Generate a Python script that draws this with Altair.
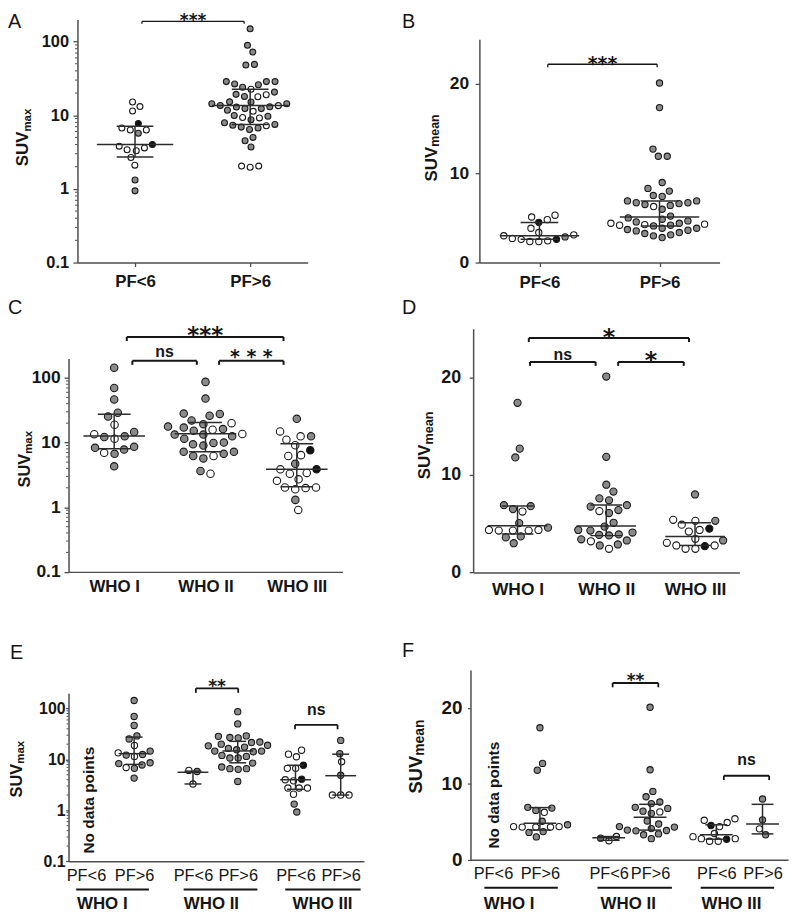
import math
import altair as alt
import pandas as pd

# ---------------------------------------------------------------
# Values
# point type: g = grey, w = white (open), b = black
# ---------------------------------------------------------------
PF_LABELS = ["PF<6", "PF>6"]
WHO_LABELS = ["WHO I", "WHO II", "WHO III"]
SUB_LABELS = ["PF<6", "PF>6", "PF<6", "PF>6", "PF<6", "PF>6"]

# Panel A : SUVmax, PF<6 vs PF>6 (log)
A_LO_VALUES = [15.1, 13.1, 11.4, 7.7, 6.7, 6.3, 6.3, 5.7, 4.0, 3.6, 3.8, 3.3, 3.4, 2.67, 2.1, 1.32, 0.94]
A_LO_TYPES = "w w w b w w w g b w w w w w w g g".split()
A_HI_VALUES = [149, 89, 72, 48, 49,
               28.6, 28.6, 25.9, 24, 26.6, 28.6,
               20.6, 19, 17.8, 18, 19.2, 22.5,
               15.1, 14.3, 13.5, 12.9, 12.3, 11.7, 12.3, 13.0, 13.6, 14.3, 15.2,
               9.9, 9.3, 8.7, 9.2, 9.7, 11.3,
               7.5, 7.2, 6.7, 6.4, 6.9, 7.3, 7.9,
               5.0, 4.5, 3.7,
               2.04, 1.97, 2.04]
A_HI_TYPES = ("g g g g g "
              "g g g g g g "
              "g w w g g w "
              "g g w g g g g g g g g "
              "g w g w g w "
              "g w g g g g g "
              "g g g "
              "w w w").split()
A_MEDIAN = [4.0, 13.6]
A_Q1 = [2.72, 7.5]
A_Q3 = [7.1, 22.5]

# Panel B : SUVmean, PF<6 vs PF>6 (linear)
B_LO_VALUES = [5.1, 5.3, 4.8, 4.5, 3.84, 3.1, 2.87, 2.6, 2.43, 2.35, 2.35, 2.6, 2.7, 3.0, 3.36]
B_LO_TYPES = "w w w b w w g w w w w b w w w".split()
B_HI_VALUES = [20.1, 17.35, 12.7, 11.9, 11.9, 8.96, 8.0, 8.3, 7.4, 7.5,
               6.9, 6.7, 6.5, 5.97, 6.27, 6.4, 6.6, 6.7, 6.9,
               5.0, 5.2, 4.85,
               4.66, 4.4, 4.25, 4.18, 4.1, 4.18, 4.3, 4.4, 4.55,
               3.84, 3.62, 3.36, 3.1, 2.8, 2.99, 3.25, 3.54, 3.7, 3.84]
B_HI_TYPES = ("g g g g g g g g g g "
              "g g g g w g g g g "
              "g g g "
              "g g w g g w w w g "
              "g g g g g g g g g g").split()
B_MEDIAN = [3.0, 5.1]
B_Q1 = [2.6, 4.1]
B_Q3 = [4.48, 6.9]

# Panel C : SUVmax by WHO grade (log)
C_I_VALUES = [144, 70, 46.6, 29, 25.3, 18.9, 14.6, 12.5, 11.5, 12.2, 13.5, 8.6, 8.3, 6.95, 6.7, 7.8, 4.3]
C_I_TYPES = "g g g g g w g g w g w g g w g g g".split()
C_II_VALUES = [87, 48, 28.1, 26, 22, 27.8, 20, 19.3, 17.1, 15.8, 15.3, 16.2, 17.7, 13.3, 12.5,
               13.6, 13.3, 11.5, 9.9, 9.4, 9.0, 10.0, 7.2, 6.7, 6.2, 5.7, 6.2, 7.2, 3.3, 3.65]
C_II_TYPES = "g g g g g g w g g w g g g g g w g g g g g g g g w g g g w g".split()
C_III_VALUES = [23.3, 12.5, 11.1, 12.5, 14.9, 9.1, 7.6, 6.4, 6.2, 4.7, 3.86, 3.86, 3.3, 3.4, 2.7,
                2.56, 2.02, 1.98, 1.9, 2.02, 1.3, 0.91]
C_III_TYPES = "g w w g w w b w w g w b w w w w w w w w g w".split()
C_MEDIAN = [12.6, 13.7, 3.86]
C_Q1 = [8.0, 7.2, 2.07]
C_Q3 = [27.5, 20.5, 9.6]

# Panel D : SUVmean by WHO grade (linear)
D_I_VALUES = [17.4, 12.7, 11.8, 6.8, 6.25, 6.5, 6.9, 5.07, 4.36, 4.3, 4.3, 4.3, 4.36, 4.6, 3.7, 3.6, 3.0]
D_I_TYPES = "g g g g w g g g w w w w w g g g g".split()
D_II_VALUES = [20.1, 11.86, 9.0, 8.3, 7.4, 7.6, 6.76, 6.4, 6.3, 6.1, 6.9, 5.1, 4.7, 4.36, 4.1,
               3.9, 3.8, 3.85, 4.3, 3.28, 2.87, 2.43, 2.77, 3.2, 3.4]
D_II_TYPES = "g g g g g g g g w g g g g g g g g g g g g w g w g".split()
D_III_VALUES = [8.0, 4.9, 5.4, 5.3, 5.3, 4.5, 4.2, 4.36, 3.45, 3.28, 2.77, 2.7, 2.43, 2.43, 2.77, 3.04]
D_III_TYPES = "g w w w g b w w w g w b w w w w".split()
D_MEDIAN = [4.8, 4.76, 3.7]
D_Q1 = [3.95, 3.78, 2.77]
D_Q3 = [6.82, 6.93, 5.1]

# Panel E : SUVmax by WHO grade and PF (log); WHO I PF<6 has no data
E_I_HI_VALUES = C_I_VALUES
E_I_HI_TYPES = C_I_TYPES
E_II_LO_VALUES = [6.1, 5.8, 3.3]
E_II_LO_TYPES = "w g w".split()
E_II_HI_VALUES = [87, 50, 29, 27, 26.5, 28.5, 22, 20, 21.5, 19, 17.5, 16.5, 18.5, 14.6, 14.2,
                  14.6, 15.5, 12, 10.7, 10.7, 11.5, 6.6, 6.4, 6.6, 7.1, 8.5, 3.7]
E_II_HI_TYPES = ("g " * 27).split()
E_III_LO_VALUES = [15.2, 11.3, 12.7, 7.7, 6.7, 6.7, 4.1, 4.0, 3.8, 2.75, 2.75, 2.75, 2.08, 1.33, 0.93]
E_III_LO_TYPES = "w w w b w w b w w w w w w g g".split()
E_III_HI_VALUES = [23.7, 13.0, 9.0, 4.9, 2.0, 2.0, 2.0]
E_III_HI_TYPES = "g g w g w w w".split()
E_MEDIAN = [13.0, 5.6, 14.7, 4.0, 4.8]
E_Q1 = [8.0, 3.3, 8.6, 2.6, 2.0]
E_Q3 = [27.5, 5.9, 22.7, 7.7, 12.7]

# Panel F : SUVmean by WHO grade and PF (linear)
F_I_HI_VALUES = D_I_VALUES
F_I_HI_TYPES = D_I_TYPES
F_II_LO_VALUES = [3.06, 2.5, 2.84]
F_II_LO_TYPES = "w w g".split()
F_II_HI_VALUES = [20.1, 11.86, 9.0, 8.3, 7.4, 7.6, 6.76, 6.4, 6.3, 6.1, 6.9, 5.1, 4.7, 4.36, 4.1,
                  3.9, 3.8, 3.85, 4.3, 3.28, 2.77, 3.4]
F_II_HI_TYPES = "g g g g g g g g w g g g g g g g g g g g g g".split()
F_III_LO_VALUES = [5.4, 5.2, 4.9, 4.5, 4.36, 3.45, 2.77, 2.7, 2.43, 2.43, 2.77, 3.04]
F_III_LO_TYPES = "w w w b w w w b w w w w".split()
F_III_HI_VALUES = [8.0, 5.25, 4.07, 3.28]
F_III_HI_TYPES = "g g w g".split()
F_MEDIAN = [4.8, 2.9, 5.6, 3.28, 4.7]
F_Q1 = [3.9, 2.55, 3.9, 2.7, 3.4]
F_Q3 = [6.87, 3.05, 7.3, 4.6, 7.3]

# significance brackets: (x from, x to, level, label)
A_BRACKETS = [(1.06, 1.948, 188, "***")]
B_BRACKETS = [(1.07, 1.98, 22.2, "***")]
C_BRACKETS = [(1.138, 2.855, 430, "***"), (1.199, 1.905, 184, "ns"), (2.149, 2.855, 184, "* * *")]
D_BRACKETS = [(1.127, 2.932, 24.04, "*"), (1.141, 1.88, 21.6, "ns"), (2.134, 2.873, 21.6, "*")]
E_BRACKETS = [(2.845, 3.79, 250, "**"), (5.06, 6.01, 48, "ns")]
F_BRACKETS = [(2.955, 3.904, 23.3, "**"), (5.266, 6.208, 11.07, "ns")]

# ---------------------------------------------------------------
# Styling / layout
# ---------------------------------------------------------------
FONT = "Liberation Sans"
STAR_FONT = "DejaVu Sans"
INK = "#161616"
AXIS_COLOR = "#4d4d4d"
LINE_COLOR = "#2b2b2b"
FILL_DOMAIN = ["g", "w", "b"]
FILL_RANGE = ["#8a8a8a", "#ffffff", "#111111"]
CHART_W, CHART_H = 790, 912
ONE_ROW = pd.DataFrame({"k": [0]})


def swarm_offsets(ys, d):
    """Beeswarm: pixel offsets so that circles of spacing d do not collide."""
    n = len(ys)
    order = sorted(range(n), key=lambda i: -ys[i])
    placed = []
    offs = [0.0] * n
    side = 1.0
    for i in order:
        y = ys[i]
        cands = [0.0]
        for px, py in placed:
            dy = abs(y - py)
            if dy < d:
                r = math.sqrt(d * d - dy * dy)
                cands += [px + r, px - r]
        valid = [c for c in cands
                 if all((c - px) ** 2 + (y - py) ** 2 >= d * d - 1e-6 for px, py in placed)]
        if not valid:
            valid = [max(abs(px) for px, _ in placed) + d]
        best = min(abs(c) for c in valid)
        near = [c for c in valid if abs(c) <= best + 0.6]
        near.sort(key=lambda c: (0 if c * side <= 0 else 1, abs(c)))
        c = near[0]
        if abs(c) > 1e-9:
            side = 1.0 if c > 0 else -1.0
        placed.append((c, y))
        offs[i] = c
    srt = sorted(range(n), key=lambda i: ys[i])
    comps, cur = [], [srt[0]]
    for a, b in zip(srt, srt[1:]):
        if ys[b] - ys[a] < d:
            cur.append(b)
        else:
            comps.append(cur)
            cur = [b]
    comps.append(cur)
    for comp in comps:
        m = sum(offs[i] for i in comp) / len(comp)
        for i in comp:
            offs[i] -= m
    return offs


def build_panel(P):
    L, R, T, B = P["box"]
    x0, x1 = P["xdomain"]
    ppu = (R - L) / (x1 - x0)
    lo, hi = P["ydomain"]
    if P["log"]:
        la, lb = math.log10(lo), math.log10(hi)
        ypix = lambda v: T + (lb - math.log10(v)) / (lb - la) * (B - T)
        ysc = alt.Scale(type="log", domain=[lo, hi], range=[B, T], nice=False)
        yfmt = "~g"
    else:
        ypix = lambda v: T + (hi - v) / (hi - lo) * (B - T)
        ysc = alt.Scale(type="linear", domain=[lo, hi], range=[B, T], nice=False, zero=False)
        yfmt = "d"
    xsc = alt.Scale(type="linear", domain=[x0, x1], range=[L, R], nice=False, zero=False)
    pos = P["positions"]
    expr = " : ".join(f"abs(datum.value - {p}) < 0.001 ? '{t}'" for p, t in zip(pos, P["labels"])) + " : ''"
    xax = alt.Axis(orient="bottom", offset=B - CHART_H, values=pos, labelExpr=expr, title=None, grid=False,
                   domainColor=AXIS_COLOR, domainWidth=1.5, ticks=True, tickSize=P["xtick"],
                   tickColor=AXIS_COLOR, tickWidth=1.3, labelFont=FONT, labelFontSize=P["xlab"],
                   labelFontWeight=P["xweight"], labelColor=INK, labelPadding=P["xpad"], labelAngle=0,
                   labelFlush=False, labelOverlap=False)
    yax = alt.Axis(orient="left", offset=-L, values=P["yticks"], format=yfmt, title=None, grid=False,
                   domainColor=AXIS_COLOR, domainWidth=1.5, ticks=True, tickSize=P["ytick"],
                   tickColor=AXIS_COLOR, tickWidth=1.3, labelFont=FONT, labelFontSize=P["ylab"],
                   labelFontWeight="bold", labelColor=INK, labelPadding=P["ypad"],
                   labelFlush=False, labelOverlap=False)

    def X(f):
        return alt.X(f"{f}:Q", scale=xsc, axis=xax)

    def Y(f):
        return alt.Y(f"{f}:Q", scale=ysc, axis=yax)

    layers = []
    # points
    rows = []
    for gi, vals, types in P["groups"]:
        offs = swarm_offsets([ypix(v) for v in vals], P["d"])
        for v, t, o in zip(vals, types, offs):
            rows.append({"x": pos[gi] + o / ppu, "y": v, "t": t})
    layers.append(
        alt.Chart(pd.DataFrame(rows)).mark_point(
            shape="circle", filled=True, size=P["size"], stroke="#1a1a1a", strokeWidth=1.1, opacity=1
        ).encode(x=X("x"), y=Y("y"),
                 fill=alt.Fill("t:N", scale=alt.Scale(domain=FILL_DOMAIN, range=FILL_RANGE), legend=None))
    )
    # minor ticks on log axes
    if P["log"]:
        minor = [m * 10 ** e for e in range(-1, 3) for m in range(2, 10) if m * 10 ** e < hi]
        layers.append(
            alt.Chart(pd.DataFrame({"v": minor})).mark_rule(color=AXIS_COLOR, strokeWidth=1).encode(
                x=alt.value(L - P["minor"]), x2=alt.value(L), y=Y("v"))
        )
    # median and interquartile range
    srows = []
    for gi, med, q1, q3 in zip(P["stat_groups"], P["med"], P["q1"], P["q3"]):
        c = pos[gi]
        srows.append(dict(c=c, med=med, q1=q1, q3=q3,
                          m1=c - P["mh"] / ppu, m2=c + P["mh"] / ppu,
                          w1=c - P["wh"] / ppu, w2=c + P["wh"] / ppu))
    sdf = pd.DataFrame(srows)
    sbase = alt.Chart(sdf).mark_rule(color=LINE_COLOR, strokeWidth=1.5)
    layers.append(sbase.encode(x=X("m1"), x2="m2", y=Y("med")))
    layers.append(sbase.encode(x=X("w1"), x2="w2", y=Y("q1")))
    layers.append(sbase.encode(x=X("w1"), x2="w2", y=Y("q3")))
    layers.append(sbase.encode(x=X("c"), y=Y("q1"), y2="q3"))
    # brackets
    for (bx1, bx2, lev, lab), (font, fsize, dy) in zip(P["brackets"], P["bstyle"]):
        bdf = pd.DataFrame({"x1": [bx1], "x2": [bx2], "xm": [(bx1 + bx2) / 2], "lev": [lev]})
        tdf = pd.DataFrame({"x": [bx1, bx2], "lev": [lev, lev]})
        layers.append(alt.Chart(bdf).mark_rule(color=INK, strokeWidth=P["bw"]).encode(
            x=X("x1"), x2="x2", y=Y("lev")))
        layers.append(alt.Chart(tdf).mark_rule(color=INK, strokeWidth=P["bw"], y2Offset=P["btick"]).encode(
            x=X("x"), y=Y("lev"), y2="lev"))
        layers.append(alt.Chart(bdf).mark_text(
            text=lab, font=font, fontSize=fsize, fontWeight="bold", color=INK,
            align="center", baseline="alphabetic", dy=dy).encode(x=X("xm"), y=Y("lev")))
    # group underlines and WHO labels below sub-grouped panels
    if "under" in P:
        udf = pd.DataFrame({"x1": [u[0] for u in P["under"]], "x2": [u[1] for u in P["under"]]})
        layers.append(alt.Chart(udf).mark_rule(color=INK, strokeWidth=2).encode(
            x=X("x1"), x2="x2", y=alt.value(P["under_y"])))
        wdf = pd.DataFrame({"x": P["who_x"], "label": WHO_LABELS})
        layers.append(alt.Chart(wdf).mark_text(
            font=FONT, fontSize=17, fontWeight="bold", color=INK, align="center", baseline="middle"
        ).encode(x=X("x"), y=alt.value(P["who_y"]), text="label:N"))
    return alt.layer(*layers)


LOG_TICKS = [0.1, 1, 10, 100]
LIN_TICKS = [0, 10, 20]

PANELS = [
    dict(box=(70, 302, 7, 252), xdomain=(0.5, 2.5), positions=[1, 2], labels=PF_LABELS,
         log=True, ydomain=(0.1, 200), yticks=LOG_TICKS,
         groups=[(0, A_LO_VALUES, A_LO_TYPES), (1, A_HI_VALUES, A_HI_TYPES)],
         stat_groups=[0, 1], med=A_MEDIAN, q1=A_Q1, q3=A_Q3,
         mh=38.5, wh=18.5, size=36, d=8.7,
         xtick=4, xlab=17, xweight="bold", xpad=7, ytick=4.5, minor=2.5, ylab=16.5, ypad=4.5,
         brackets=A_BRACKETS, bstyle=[(STAR_FONT, 17, 5)], bw=1.3, btick=2.5),
    dict(box=(475, 717, 27, 252), xdomain=(0.5, 2.5), positions=[1, 2], labels=PF_LABELS,
         log=False, ydomain=(0, 25), yticks=LIN_TICKS,
         groups=[(0, B_LO_VALUES, B_LO_TYPES), (1, B_HI_VALUES, B_HI_TYPES)],
         stat_groups=[0, 1], med=B_MEDIAN, q1=B_Q1, q3=B_Q3,
         mh=40, wh=19, size=40, d=9.0,
         xtick=4, xlab=17, xweight="bold", xpad=8, ytick=4.3, ylab=17.5, ypad=6.5,
         brackets=B_BRACKETS, bstyle=[(STAR_FONT, 19, 5.4)], bw=1.3, btick=3),
    dict(box=(61, 337, 348.7, 563.7), xdomain=(0.5, 3.5), positions=[1, 2, 3], labels=WHO_LABELS,
         log=True, ydomain=(0.1, 200), yticks=LOG_TICKS,
         groups=[(0, C_I_VALUES, C_I_TYPES), (1, C_II_VALUES, C_II_TYPES), (2, C_III_VALUES, C_III_TYPES)],
         stat_groups=[0, 1, 2], med=C_MEDIAN, q1=C_Q1, q3=C_Q3,
         mh=31, wh=16.5, size=56, d=10.5,
         xtick=0, xlab=17, xweight="bold", xpad=6.8, ytick=4.5, minor=2.5, ylab=17.5, ypad=4,
         brackets=C_BRACKETS, bstyle=[(STAR_FONT, 23, 6.0), (FONT, 16, -3.6), (STAR_FONT, 19, 1.7)],
         bw=2, btick=4),
    dict(box=(468.7, 737, 318.7, 564.3), xdomain=(0.5, 3.5), positions=[1, 2, 3], labels=WHO_LABELS,
         log=False, ydomain=(0, 25), yticks=LIN_TICKS,
         groups=[(0, D_I_VALUES, D_I_TYPES), (1, D_II_VALUES, D_II_TYPES), (2, D_III_VALUES, D_III_TYPES)],
         stat_groups=[0, 1, 2], med=D_MEDIAN, q1=D_Q1, q3=D_Q3,
         mh=30, wh=16, size=52, d=9.9,
         xtick=0, xlab=17.5, xweight="bold", xpad=8, ytick=4, ylab=18, ypad=8.5,
         brackets=D_BRACKETS, bstyle=[(STAR_FONT, 24, 6.6), (FONT, 16, -2.3), (STAR_FONT, 24, 6.3)],
         bw=2, btick=4),
    dict(box=(61, 358.7, 686, 855.3), xdomain=(0, 6.6), positions=[0.39, 1.465, 2.78, 3.78, 5.07, 6.08],
         labels=SUB_LABELS, log=True, ydomain=(0.1, 200), yticks=LOG_TICKS,
         groups=[(1, E_I_HI_VALUES, E_I_HI_TYPES), (2, E_II_LO_VALUES, E_II_LO_TYPES),
                 (3, E_II_HI_VALUES, E_II_HI_TYPES), (4, E_III_LO_VALUES, E_III_LO_TYPES),
                 (5, E_III_HI_VALUES, E_III_HI_TYPES)],
         stat_groups=[1, 2, 3, 4, 5], med=E_MEDIAN, q1=E_Q1, q3=E_Q3,
         mh=15.5, wh=8.5, size=40, d=8.4,
         xtick=0, xlab=16.5, xweight="normal", xpad=6, ytick=3, minor=2, ylab=16, ypad=0.5,
         brackets=E_BRACKETS, bstyle=[(STAR_FONT, 17, 3.6), (FONT, 16, -9.8)], bw=1.8, btick=4.5,
         under=[(0.171, 1.796), (2.572, 4.219), (4.840, 6.525)], under_y=883.7,
         who_x=[0.754, 3.192, 5.675], who_y=898.7),
    dict(box=(466, 786, 662.7, 853.7), xdomain=(0, 6.6), positions=[0.468, 1.444, 2.873, 3.733, 5.109, 6.07],
         labels=SUB_LABELS, log=False, ydomain=(0, 25), yticks=LIN_TICKS,
         groups=[(1, F_I_HI_VALUES, F_I_HI_TYPES), (2, F_II_LO_VALUES, F_II_LO_TYPES),
                 (3, F_II_HI_VALUES, F_II_HI_TYPES), (4, F_III_LO_VALUES, F_III_LO_TYPES),
                 (5, F_III_HI_VALUES, F_III_HI_TYPES)],
         stat_groups=[1, 2, 3, 4, 5], med=F_MEDIAN, q1=F_Q1, q3=F_Q3,
         mh=16.5, wh=11, size=40, d=8.7,
         xtick=0, xlab=16.5, xweight="normal", xpad=6.2, ytick=3, ylab=19, ypad=5.5,
         brackets=F_BRACKETS, bstyle=[(STAR_FONT, 17, 2.6), (FONT, 16, -10.9)], bw=1.8, btick=4.3,
         under=[(0.289, 1.815), (2.64, 4.187), (4.785, 6.311)], under_y=882,
         who_x=[0.804, 3.279, 5.424], who_y=898.7),
]


def text_at(txt, x, y, size, weight="bold", angle=None, align="left", baseline="alphabetic", font=FONT):
    kw = dict(text=txt, font=font, fontSize=size, fontWeight=weight, align=align,
              baseline=baseline, color=INK)
    if angle is not None:
        kw["angle"] = angle
    return alt.Chart(ONE_ROW).mark_text(**kw).encode(x=alt.value(x), y=alt.value(y))


ANNOTATIONS = [
    # panel letters
    text_at("A", 0, 0, 20, weight="normal", baseline="top"),
    text_at("B", 397, 0, 20, weight="normal", baseline="top"),
    text_at("C", 0, 287.6, 20, weight="normal", baseline="top"),
    text_at("D", 397, 287.6, 20, weight="normal", baseline="top"),
    text_at("E", 2, 635.6, 20, weight="normal", baseline="top"),
    text_at("F", 397, 633.9, 20, weight="normal", baseline="top"),
    # y axis titles with subscripts
    text_at("SUV", 20.3, 155, 17, angle=270), text_at("max", 22.8, 120, 11.5, angle=270),
    text_at("SUV", 432, 170.3, 17, angle=270), text_at("mean", 434.5, 135.3, 12.5, angle=270),
    text_at("SUV", 22, 478.7, 16.5, angle=270), text_at("max", 24.5, 444.7, 11.5, angle=270),
    text_at("SUV", 425.3, 470.3, 17, angle=270), text_at("mean", 427.8, 435.3, 12.7, angle=270),
    text_at("SUV", 13.7, 791, 16.5, angle=270), text_at("max", 16.2, 757, 11.5, angle=270),
    text_at("SUV", 417, 787, 18.5, angle=270), text_at("mean", 419.5, 749, 14, angle=270),
    # empty group notes
    text_at("No data points", 82, 793.7, 15.5, angle=270, align="center", baseline="middle"),
    text_at("No data points", 490, 788.7, 15.5, angle=270, align="center", baseline="middle"),
]

panels = [build_panel(P) for P in PANELS]

chart = alt.layer(*panels, *ANNOTATIONS).resolve_scale(
    x="independent", y="independent"
).resolve_axis(
    x="independent", y="independent"
).properties(
    width=CHART_W, height=CHART_H, padding=0
).configure_view(strokeWidth=0)

chart.save("out.html", embed_options={"renderer": "svg", "actions": False})
